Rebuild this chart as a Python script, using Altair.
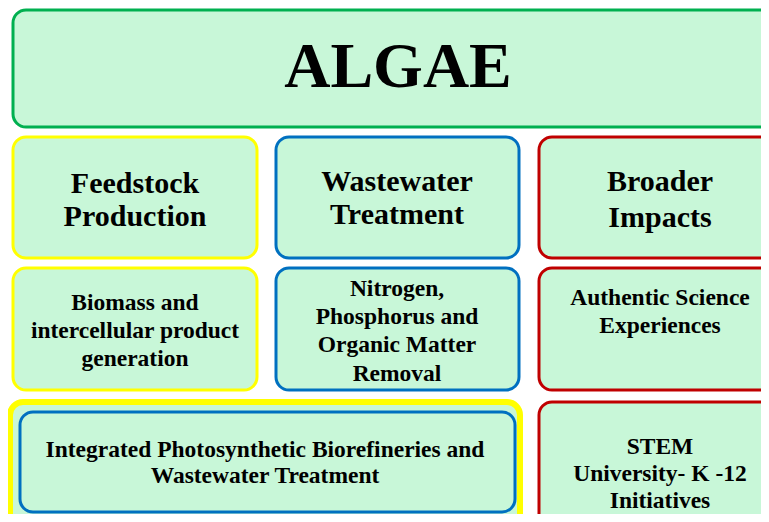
import altair as alt
import pandas as pd

# Boxes of the diagram (pixel units of the picture)
box_x1 = [13, 13, 276, 539, 13, 276, 539, 10, 20, 539]
box_x2 = [795, 257, 519, 795, 257, 519, 795, 520, 515, 795]
box_y1 = [10, 137, 137, 137, 268, 268, 268, 402, 412, 402]
box_y2 = [127, 258, 258, 258, 390, 390, 390, 530, 512, 530]
box_stroke = ["#00B050", "#FFFF00", "#0070C0", "#C00000", "#FFFF00", "#0070C0",
              "#C00000", "#FFFF00", "#0070C0", "#C00000"]
box_sw = [3, 3, 3, 3, 3, 3, 3, 6, 3, 3]

# Text lines
txt = ["Feedstock", "Production", "Wastewater", "Treatment", "Broader", "Impacts"]
txt_x = [135, 135, 397, 397, 660, 660]
txt_y = [184, 217, 182, 215, 182, 218]

small_txt = ["Biomass and", "intercellular product", "generation",
             "Nitrogen,", "Phosphorus  and", "Organic Matter", "Removal",
             "Authentic Science", "Experiences",
             "Integrated Photosynthetic Biorefineries and", "Wastewater Treatment",
             "STEM", "University- K -12", "Initiatives"]
small_x = [135, 135, 135, 397, 397, 397, 397, 660, 660, 265, 265, 660, 660, 660]
small_y = [303, 331, 359, 289, 317, 345, 374, 298, 326, 450, 476, 447, 474, 501]

title = ["ALGAE"]
title_x = [398]
title_y = [68]

boxes = pd.DataFrame({"x1": box_x1, "x2": box_x2, "y1": box_y1, "y2": box_y2,
                      "stroke": box_stroke, "sw": box_sw})
big = pd.DataFrame({"t": txt, "x": txt_x, "y": txt_y})
small = pd.DataFrame({"t": small_txt, "x": small_x, "y": small_y})
ttl = pd.DataFrame({"t": title, "x": title_x, "y": title_y})

W, H = 753, 506
xs = alt.Scale(domain=[8, 8 + W], range=[0, W], nice=False, zero=False)
ys = alt.Scale(domain=[8, 8 + H], range=[0, H], nice=False, zero=False)
FONT = "Liberation Serif"

rects = alt.Chart(boxes).mark_rect(cornerRadius=13, fill="#C8F7D8", clip=True).encode(
    x=alt.X("x1:Q", scale=xs, axis=None),
    x2="x2:Q",
    y=alt.Y("y1:Q", scale=ys, axis=None),
    y2="y2:Q",
    stroke=alt.Stroke("stroke:N", scale=None),
    strokeWidth=alt.StrokeWidth("sw:Q", scale=None),
)

def text_layer(df, size, color="black"):
    return alt.Chart(df).mark_text(font=FONT, fontWeight="bold", fontSize=size,
                                   color=color, baseline="middle", align="center").encode(
        x=alt.X("x:Q", scale=xs, axis=None),
        y=alt.Y("y:Q", scale=ys, axis=None),
        text="t:N",
    )

chart = alt.layer(
    rects,
    text_layer(ttl, 64),
    text_layer(big, 30),
    text_layer(small, 23.5),
).properties(
    width=W, height=H,
    autosize=alt.AutoSizeParams(type="none"),
    padding=0,
).configure_view(stroke=None)

chart.save("out.html", embed_options={"renderer": "svg", "actions": False})
